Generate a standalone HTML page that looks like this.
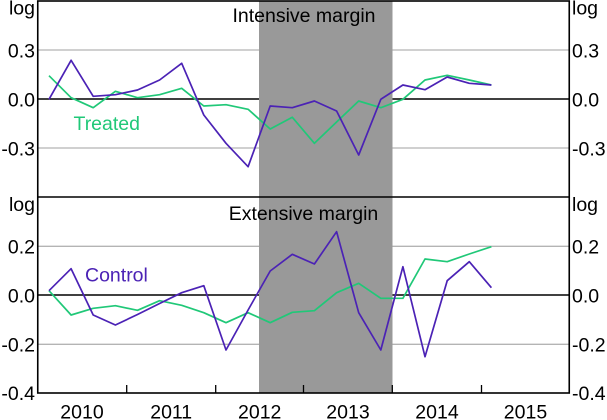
<!DOCTYPE html>
<html>
<head>
<meta charset="utf-8">
<style>
html,body{margin:0;padding:0;background:#fff;}
svg{display:block;}
text{font-family:"Liberation Sans",Arial,sans-serif;font-size:19.5px;fill:#000;}
</style>
</head>
<body>
<svg width="607" height="420" viewBox="0 0 607 420" xmlns="http://www.w3.org/2000/svg">
  <rect x="0" y="0" width="607" height="420" fill="#fff"/>
  <!-- gridlines top -->
  <line x1="38" y1="50" x2="569" y2="50" stroke="#b4b4b4" stroke-width="1.3"/>
  <line x1="38" y1="148" x2="569" y2="148" stroke="#b4b4b4" stroke-width="1.3"/>
  <line x1="38" y1="99" x2="569" y2="99" stroke="#000" stroke-width="1.4"/>
  <!-- gridlines bottom -->
  <line x1="38" y1="246.3" x2="569" y2="246.3" stroke="#b4b4b4" stroke-width="1.3"/>
  <line x1="38" y1="344.3" x2="569" y2="344.3" stroke="#b4b4b4" stroke-width="1.3"/>
  <line x1="38" y1="295" x2="569" y2="295" stroke="#000" stroke-width="1.4"/>
  <!-- shading -->
  <rect x="259" y="1" width="133.5" height="392" fill="#999999"/>

  <!-- top series -->
  <polyline fill="none" stroke="#20c878" stroke-width="1.7" stroke-linejoin="round"
    points="49,75.7 71.1,97.7 93.2,107.7 115.4,91.3 137.5,97.7 159.6,94.7 181.7,88.3 203.8,106 226,104.7 248.1,109.3 270.2,129 292.3,117.3 314.4,143.3 336.6,122 358.7,101 380.8,107.7 402.9,99.3 425,80 447.2,75.3 469.3,80 491.4,85"/>
  <polyline fill="none" stroke="#4b22b5" stroke-width="1.7" stroke-linejoin="round"
    points="49,99.3 71.1,60.3 93.2,96.3 115.4,94.7 137.5,90 159.6,80 181.7,63.3 203.8,115 226,143.3 248.1,166.7 270.2,106 292.3,107.7 314.4,101 336.6,111 358.7,155 380.8,99.3 402.9,85 425,89.7 447.2,77 469.3,83.3 491.4,85"/>

  <!-- bottom series -->
  <polyline fill="none" stroke="#20c878" stroke-width="1.7" stroke-linejoin="round"
    points="49,290.7 71.1,315 93.2,308.3 115.4,305.7 137.5,310.3 159.6,300.7 181.7,305.3 203.8,312.7 226,322.7 248.1,312.7 270.2,322.7 292.3,312.3 314.4,310.7 336.6,292.7 358.7,283.3 380.8,298.3 402.9,298.3 425,259 447.2,261.7 469.3,254 491.4,246.7"/>
  <polyline fill="none" stroke="#4b22b5" stroke-width="1.7" stroke-linejoin="round"
    points="49,290.7 71.1,268.7 93.2,315 115.4,325 137.5,314.5 159.6,303.5 181.7,292.7 203.8,285.7 226,350 248.1,310 270.2,271 292.3,254.3 314.4,264 336.6,231.7 358.7,312.7 380.8,350 402.9,266.7 425,356.7 447.2,280.7 469.3,261.7 491.4,287.7"/>

  <!-- frame -->
  <rect x="37.75" y="1" width="531.5" height="392" fill="none" stroke="#000" stroke-width="1.6"/>
  <line x1="38" y1="197" x2="569" y2="197" stroke="#000" stroke-width="1.6"/>
  <!-- x ticks -->
  <line x1="126.7" y1="385" x2="126.7" y2="393" stroke="#000" stroke-width="1.3"/>
  <line x1="215.7" y1="385" x2="215.7" y2="393" stroke="#000" stroke-width="1.3"/>
  <line x1="303.5" y1="385" x2="303.5" y2="393" stroke="#000" stroke-width="1.3"/>
  <line x1="392.3" y1="385" x2="392.3" y2="393" stroke="#000" stroke-width="1.3"/>
  <line x1="481.5" y1="385" x2="481.5" y2="393" stroke="#000" stroke-width="1.3"/>

  <!-- titles -->
  <text x="304" y="22" text-anchor="middle">Intensive margin</text>
  <text x="303.5" y="220" text-anchor="middle">Extensive margin</text>
  <text x="73.5" y="130" style="fill:#20c878">Treated</text>
  <text x="85" y="281.5" style="fill:#4b22b5">Control</text>

  <!-- left axis labels -->
  <text x="35" y="14.5" text-anchor="end">log</text>
  <text x="35" y="57.5" text-anchor="end">0.3</text>
  <text x="35" y="106.5" text-anchor="end">0.0</text>
  <text x="35" y="155.5" text-anchor="end">-0.3</text>
  <text x="35" y="211" text-anchor="end">log</text>
  <text x="35" y="253.5" text-anchor="end">0.2</text>
  <text x="35" y="302.5" text-anchor="end">0.0</text>
  <text x="35" y="351.5" text-anchor="end">-0.2</text>
  <text x="35" y="400" text-anchor="end">-0.4</text>

  <!-- right axis labels -->
  <text x="572" y="14.5">log</text>
  <text x="572" y="57.5">0.3</text>
  <text x="572" y="106.5">0.0</text>
  <text x="572" y="155.5">-0.3</text>
  <text x="572" y="211">log</text>
  <text x="572" y="253.5">0.2</text>
  <text x="572" y="302.5">0.0</text>
  <text x="572" y="351.5">-0.2</text>
  <text x="572" y="400">-0.4</text>

  <!-- x labels -->
  <text x="82" y="418.5" text-anchor="middle">2010</text>
  <text x="171.2" y="418.5" text-anchor="middle">2011</text>
  <text x="259.7" y="418.5" text-anchor="middle">2012</text>
  <text x="348" y="418.5" text-anchor="middle">2013</text>
  <text x="437" y="418.5" text-anchor="middle">2014</text>
  <text x="525.5" y="418.5" text-anchor="middle">2015</text>
</svg>
</body>
</html>
